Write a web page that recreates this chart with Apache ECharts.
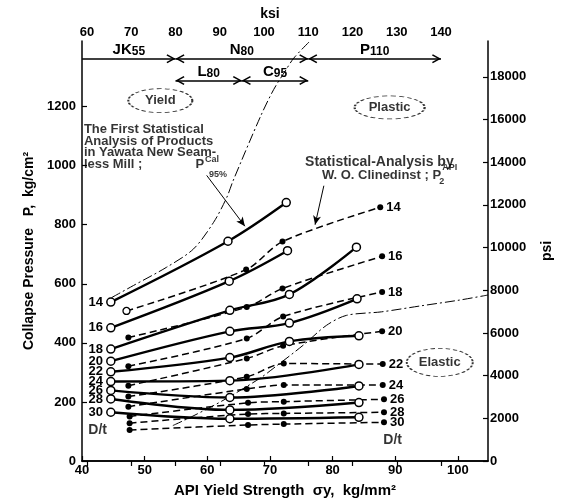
<!DOCTYPE html>
<html><head><meta charset="utf-8">
<script src="https://cdn.jsdelivr.net/npm/echarts@6/dist/echarts.min.js"></script>
<style>html,body{margin:0;padding:0;background:#fff}#c{width:563px;height:503px}</style>
</head><body><div id="c"></div>
<script>
// ---- axis ticks ----
const yieldTicks = [40, 50, 60, 70, 80, 90, 100];          // kg/mm2
const ksiTicks = [60, 70, 80, 90, 100, 110, 120, 130, 140];
const pTicks = [0, 200, 400, 600, 800, 1000, 1200];         // kg/cm2
const psiTicks = [0, 2000, 4000, 6000, 8000, 10000, 12000, 14000, 16000, 18000];

// ---- D/t labels ----
const dtLabels = ['14', '16', '18', '20', '22', '24', '26', '28', '30'];

// ---- First statistical analysis (Yawata) : [yield kg/mm2, P kg/cm2] ----
const cal14 = [[44.6, 538], [63.3, 744], [72.6, 875]];
const cal16 = [[44.6, 451], [63.5, 609], [72.8, 712]];
const cal18 = [[44.6, 379], [63.6, 510], [73.1, 564], [83.8, 724]];
const cal20 = [[44.6, 338], [63.6, 439], [73.1, 467], [83.9, 549]];
const cal22 = [[44.6, 302], [63.6, 350], [73.1, 405], [84.2, 424]];
const cal24 = [[44.6, 269], [63.6, 272], [84.2, 327]];
const cal26 = [[44.6, 239], [63.6, 215], [84.2, 254]];
const cal28 = [[44.6, 210], [63.6, 173], [84.2, 198]];
const cal30 = [[44.6, 165], [63.6, 143], [84.2, 148]];

// ---- Statistical analysis by W.O. Clinedinst (API) ----
const api14 = [[47.1, 508], [66.2, 648], [72.0, 743], [87.6, 859]];
const api16 = [[47.4, 418], [66.3, 521], [72.0, 584], [87.9, 693]];
const api18 = [[47.4, 321], [66.3, 415], [72.1, 489], [87.9, 572]];
const api20 = [[47.4, 255], [66.3, 347], [72.1, 390], [87.9, 439]];
const api22 = [[47.4, 218], [66.3, 285], [72.2, 330], [88.0, 328]];
const api24 = [[47.4, 184], [66.3, 244], [72.2, 257], [88.0, 257]];
const api26 = [[47.6, 151], [66.5, 197], [72.2, 201], [88.2, 209]];
const api28 = [[47.6, 128], [66.5, 159], [72.2, 161], [88.2, 165]];
const api30 = [[47.6, 105], [66.5, 122], [72.2, 125], [88.2, 131]];

// ---- region boundaries (dash-dot) ----
const yieldBoundary = [[44.7, 553], [48.2, 594], [53.5, 656], [57.8, 718], [61.0, 808], [63.1, 892], [64.1, 948], [68.5, 1167], [70.6, 1258], [72.4, 1319], [73.8, 1364], [76.4, 1422]];
const elasticBoundary = [[54.5, 120], [57.7, 152], [62.5, 205], [68.4, 280], [70.5, 313], [75.3, 392], [79.0, 459], [82.2, 493], [87.8, 505], [94.0, 525], [100.3, 545], [104.8, 562]];

// ---- steel grades (ksi ranges) ----
const gradeMain = ['JK', 'N', 'P', 'L', 'C'];
const gradeSub = ['55', '80', '110', '80', '95'];
const gradeFrom = [58.9, 80, 110, 80, 95];
const gradeTo = [80, 110, 140, 95, 110];

// ---- layout (annotation placement, in data units) ----
const layout = {
  gradeRow: [1362, 1362, 1362, 1288, 1288],
  gradeStartArrow: [false, true, true, true, true],
  yieldEll: [52.5, 1220], plasticEll: [89.1, 1197], elasticEll: [97.1, 334],
  note1: [40.3, 1142], note1P: [58.1, 1026],
  note2a: [75.6, 1037], note2b: [78.3, 990],
  dtLeft: [41.0, 128], dtRight: [88.1, 95],
  lead1: [[59.9, 967], [66.0, 795]], lead2: [[78.6, 932], [77.2, 800]]
};

const FF = '"Liberation Sans", Arial, Helvetica, sans-serif';
const txt = { fontFamily: FF, fontWeight: 'bold', color: '#000' };
// chevron whose tip sits at the symbol centre (degenerate sub-path widens the box)
const chevron = 'path://M5,-9.9 L5.01,-9.9 L5,-9.9 Z M5,0 L10,9 L8.6,9.9 L5,3.3 L1.4,9.9 L0,9 Z';

const measurer = document.createElement('canvas').getContext('2d');
function textW(s, size) { measurer.font = 'bold ' + size + 'px ' + FF; return measurer.measureText(s).width; }

const calSets = [cal14, cal16, cal18, cal20, cal22, cal24, cal26, cal28, cal30];
const apiSets = [api14, api16, api18, api20, api22, api24, api26, api28, api30];

const series = [];
series.push({ type: 'line', data: yieldBoundary, smooth: 0.3, symbol: 'none', z: 2,
  lineStyle: { color: '#000', width: 1, type: [10, 3, 2, 3] } });
series.push({ type: 'line', data: elasticBoundary, smooth: 0.3, symbol: 'none', z: 2,
  lineStyle: { color: '#000', width: 1, type: [10, 3, 2, 3] } });

apiSets.forEach((d, i) => {
  series.push({
    type: 'line', smooth: 0.3, z: 3, symbol: 'circle', symbolSize: 6, showAllSymbol: true,
    data: d.map((p, j) => {
      const o = { value: p };
      if (j === d.length - 1) o.label = { show: true, position: 'right', distance: 3, formatter: dtLabels[i] };
      if (i === 0 && j === 0) { o.itemStyle = { color: '#fff', borderColor: '#000', borderWidth: 1.3 }; o.symbolSize = 7; }
      return o;
    }),
    lineStyle: { color: '#000', width: 1.5, type: [7, 4] },
    itemStyle: { color: '#000' },
    label: Object.assign({ fontSize: 13 }, txt)
  });
});

calSets.forEach((d, i) => {
  series.push({
    type: 'line', smooth: 0.35, z: 4, symbol: 'circle', symbolSize: 8, showAllSymbol: true,
    data: d.map((p, j) => j === 0 ? { value: p, label: { show: true, position: 'left', distance: 3, formatter: dtLabels[i] } } : p),
    lineStyle: { color: '#000', width: 2.4 },
    itemStyle: { color: '#fff', borderColor: '#000', borderWidth: 1.5 },
    label: Object.assign({ fontSize: 13 }, txt)
  });
});

// region ellipses
function ell(pos, text, size) {
  return { value: pos, symbolSize: size, label: { show: true, position: 'inside', formatter: text } };
}
series.push({
  type: 'scatter', z: 5, symbol: 'circle',
  itemStyle: { color: '#fff', borderColor: '#000', borderWidth: 1.3, borderType: [3, 2] },
  label: Object.assign({ fontSize: 13 }, txt),
  data: [ell(layout.yieldEll, 'Yield', [64, 24]), ell(layout.plasticEll, 'Plastic', [70, 23]), ell(layout.elasticEll, 'Elastic', [66, 28])]
});

// text notes (label offsets in px relative to anchor point)
function note(pos, text, size, off, lh) {
  return { value: pos, label: { show: true, position: off || [0, 0], align: 'left', verticalAlign: 'top', formatter: text, fontSize: size, lineHeight: lh || size } };
}
const n1 = ['The First Statistical', 'Analysis of Products', 'in Yawata New Seam-', 'less Mill ;'];
const n1Size = 13, n1LH = 11.6;
const pw = textW('P', n1Size);
const n2b = 'W. O. Clinedinst ; P';
const n2w = textW(n2b, 13);
series.push({
  type: 'scatter', z: 6, symbolSize: 0, itemStyle: { color: 'transparent' },
  label: Object.assign({}, txt),
  data: [
    note(layout.note1, n1.join('\n'), n1Size, [0, 0], n1LH),
    note(layout.note1P, 'P', n1Size),
    note(layout.note1P, 'Cal', 9, [pw + 1, -3]),
    note(layout.note1P, '95%', 9, [pw + 5, 12]),
    note(layout.note2a, 'Statistical-Analysis by', 14),
    note(layout.note2b, n2b, 13),
    note(layout.note2b, 'API', 9, [n2w + 1, -6]),
    note(layout.note2b, '2', 9, [n2w - 2, 8]),
    note(layout.dtLeft, 'D/t', 14),
    note(layout.dtRight, 'D/t', 14)
  ]
});

// leader arrows
series.push({
  type: 'line', data: [], z: 6,
  markLine: {
    silent: true, animation: false, symbol: ['none', 'arrow'], symbolSize: [6, 9],
    lineStyle: { color: '#000', width: 1, type: 'solid' }, label: { show: false },
    data: [
      [{ coord: layout.lead1[0] }, { coord: layout.lead1[1] }],
      [{ coord: layout.lead2[0] }, { coord: layout.lead2[1] }]
    ]
  }
});

// grade ranges on ksi axis
series.push({
  type: 'line', data: [], xAxisIndex: 1, yAxisIndex: 0, z: 6,
  markLine: {
    silent: true, animation: false, symbolSize: [9, 18],
    lineStyle: { color: '#000', width: 1.5, type: 'solid' },
    data: gradeMain.map((g, i) => [
      { coord: [gradeFrom[i], layout.gradeRow[i]], symbol: layout.gradeStartArrow[i] ? chevron : 'none',
        label: { show: true, position: 'insideMiddleTop', distance: 1, formatter: '{a|' + g + '}{b|' + gradeSub[i] + '}',
          rich: { a: Object.assign({ fontSize: 15 }, txt), b: Object.assign({ fontSize: 12, verticalAlign: 'bottom' }, txt) } } },
      { coord: [gradeTo[i], layout.gradeRow[i]], symbol: chevron }
    ])
  }
});

const axLine = { show: true, lineStyle: { color: '#000', width: 1.5 } };
const axTick = (vals) => ({ show: true, inside: true, length: 5, customValues: vals, lineStyle: { color: '#000', width: 1.2 } });
const axLabel = (vals, m) => Object.assign({ customValues: vals, margin: m, fontSize: 13, formatter: (v) => String(v) }, txt);

const option = {
  animation: false,
  backgroundColor: '#fff',
  grid: { left: 82, right: 75, top: 41, bottom: 40 },
  xAxis: [
    { type: 'value', position: 'bottom', min: 40, max: 104.8,
      axisLine: axLine, axisTick: axTick(yieldTicks), axisLabel: axLabel(yieldTicks, 3), splitLine: { show: false },
      name: 'API Yield Strength  σy,  kg/mm²', nameLocation: 'middle', nameGap: 22,
      nameTextStyle: Object.assign({ fontSize: 15 }, txt) },
    { type: 'value', position: 'top', min: 58.87, max: 150.62,
      axisLine: axLine, axisTick: axTick(ksiTicks), axisLabel: axLabel(ksiTicks, 2), splitLine: { show: false },
      name: 'ksi', nameLocation: 'middle', nameGap: 18,
      nameTextStyle: Object.assign({ fontSize: 14, padding: [0, 30, 0, 0] }, txt) }
  ],
  yAxis: [
    { type: 'value', position: 'left', min: 0, max: 1422,
      axisLine: axLine, axisTick: axTick(pTicks), axisLabel: axLabel(pTicks, 6), splitLine: { show: false },
      name: 'Collapse Pressure   P,  kg/cm²', nameLocation: 'middle', nameRotate: 90, nameGap: 40,
      nameTextStyle: Object.assign({ fontSize: 14 }, txt) },
    { type: 'value', position: 'right', min: 0, max: 19680,
      axisLine: axLine, axisTick: axTick(psiTicks), axisLabel: axLabel(psiTicks, 2), splitLine: { show: false },
      name: 'psi', nameLocation: 'middle', nameRotate: 90, nameGap: 52,
      nameTextStyle: Object.assign({ fontSize: 14 }, txt) }
  ],
  series: series
};

const chart = echarts.init(document.getElementById('c'), null, { renderer: 'canvas' });
chart.setOption(option);
</script></body></html>
